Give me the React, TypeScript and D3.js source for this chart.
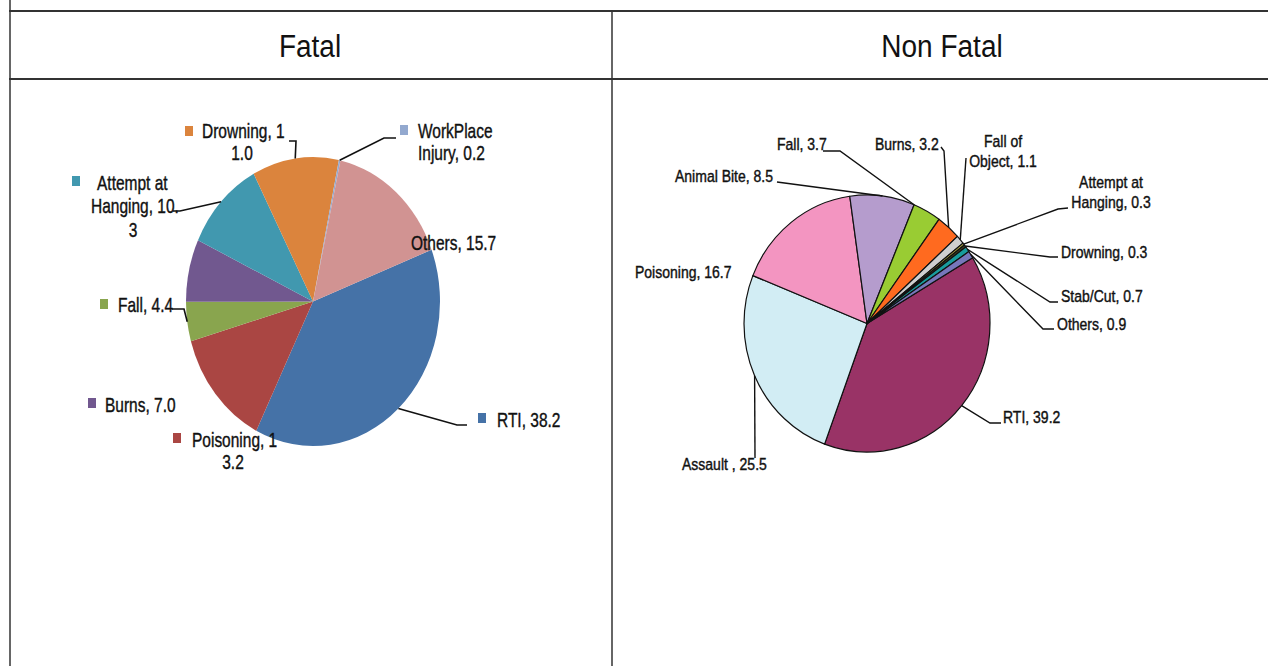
import React from "react";
import * as d3 from "d3";

// ---------- DATA ----------
const fatalCategories = ["RTI", "Poisoning", "Fall", "Burns", "Attempt at Hanging", "Drowning", "WorkPlace Injury", "Others"];
const fatalValues = [38.2, 13.2, 4.4, 7.0, 10.3, 11.0, 0.2, 15.7];
const fatalColors = ["#4572A7", "#AA4643", "#89A54E", "#71588F", "#4198AF", "#DB843D", "#93A9CF", "#D19392"];

const nonFatalCategories = ["RTI", "Assault ", "Poisoning", "Animal Bite", "Fall", "Burns", "Fall of Object", "Attempt at Hanging", "Drowning", "Stab/Cut", "Others"];
const nonFatalValues = [39.2, 25.5, 16.7, 8.5, 3.7, 3.2, 1.1, 0.3, 0.3, 0.7, 0.9];
const nonFatalColors = ["#993366", "#D2EDF4", "#F395C1", "#B59CCD", "#99CC33", "#FF6A1F", "#CFCFCF", "#A8A040", "#404020", "#189C9C", "#7777BB"];

const panelTitles = ["Fatal", "Non Fatal"];

// ---------- LAYOUT ----------
type Line = [number, number, "start" | "middle"];
type LabelLayout = {
  breaks?: number[];
  pos: Line[];
  key?: [number, number];
  leader?: [number, number][];
  at?: number;
};

const fatalLayout: LabelLayout[] = [
  { pos: [[497, 427, "start"]], key: [478, 413], leader: [[467, 425], [457, 425]] },
  { breaks: [12], pos: [[192, 447, "start"], [233, 469, "middle"]], key: [173, 433] },
  { pos: [[118, 312, "start"]], key: [100, 299], leader: [[172, 309], [184, 309]] },
  { pos: [[105, 412, "start"]], key: [88, 398] },
  { breaks: [11, 23], pos: [[97, 190, "start"], [91, 213, "start"], [133, 237, "middle"]], key: [72, 176], leader: [[173, 211], [180, 211]] },
  { breaks: [11], pos: [[202, 138, "start"], [242, 160, "middle"]], key: [185, 126], leader: [[289, 141], [296, 141]] },
  { breaks: [10], pos: [[418, 138, "start"], [418, 160, "start"]], key: [400, 125], leader: [[396, 138], [384, 138]] },
  { pos: [[411, 250, "start"]] },
];

const nonFatalLayout: LabelLayout[] = [
  { pos: [[1003, 423, "start"]], leader: [[1001, 423], [990, 423]] },
  { pos: [[682, 470, "start"]], leader: [[755, 458]] },
  { pos: [[635, 278, "start"]] },
  { pos: [[675, 182, "start"]], leader: [[777, 182]] },
  { pos: [[777, 150, "start"]], leader: [[823, 151], [840, 151]], at: 0 },
  { pos: [[875, 150, "start"]], leader: [[941, 147], [944, 151]] },
  { breaks: [8], pos: [[1003, 147, "middle"], [1003, 167, "middle"]], leader: [[966, 158]] },
  { breaks: [11], pos: [[1111, 188, "middle"], [1111, 208, "middle"]], leader: [[1068, 208], [1058, 209]] },
  { pos: [[1061, 258, "start"]], leader: [[1058, 257], [1050, 257]] },
  { pos: [[1061, 302, "start"]], leader: [[1058, 302], [1050, 302]] },
  { pos: [[1057, 330, "start"]], leader: [[1054, 329], [1043, 329]] },
];

const FONT = "'Liberation Sans', Arial, sans-serif";

function splitText(s: string, breaks?: number[]): string[] {
  if (!breaks || breaks.length === 0) return [s];
  const out: string[] = [];
  let prev = 0;
  for (const b of breaks) {
    out.push(s.slice(prev, b).trim());
    prev = b;
  }
  out.push(s.slice(prev).trim());
  return out;
}

type PieProps = {
  categories: string[];
  values: number[];
  colors: string[];
  layout: LabelLayout[];
  cx: number;
  cy: number;
  rx: number;
  ry: number;
  startDeg: number;
  stroke?: string;
  fontSize: number;
  textScaleY: number;
  leaderWidth: number;
  textStroke: number;
};

function Pie(p: PieProps) {
  const start = (p.startDeg * Math.PI) / 180;
  const idx = p.values.map((_, i) => i);
  const pie = d3
    .pie<number>()
    .sort(null)
    .value((i) => p.values[i])
    .startAngle(start)
    .endAngle(start + 2 * Math.PI);
  const arcs = pie(idx);
  const arc = d3.arc<d3.PieArcDatum<number>>().innerRadius(0).outerRadius(p.rx);
  const sy = p.ry / p.rx;
  const line = d3.line();

  return (
    <g>
      <g transform={`translate(${p.cx},${p.cy}) scale(1,${sy})`}>
        {arcs.map((a, i) => (
          <path
            key={i}
            d={arc(a) || ""}
            fill={p.colors[i]}
            stroke={p.stroke || "none"}
            strokeWidth={p.stroke ? 1.2 : 0}
            vectorEffect="non-scaling-stroke"
            strokeLinejoin="round"
          />
        ))}
      </g>
      {arcs.map((a, i) => {
        const L = p.layout[i];
        const text = `${p.categories[i]}, ${p.values[i].toFixed(1)}`;
        const lines = splitText(text, L.breaks);
        const t = L.at === undefined ? 0.5 : L.at;
        const ang = a.startAngle + t * (a.endAngle - a.startAngle);
        const ax = p.cx + p.rx * Math.sin(ang);
        const ay = p.cy - p.ry * Math.cos(ang);
        return (
          <g key={i}>
            {L.key && <rect x={L.key[0]} y={L.key[1]} width={8} height={10} fill={p.colors[i]} />}
            {lines.map((s, j) => {
              const ps = L.pos[Math.min(j, L.pos.length - 1)];
              return (
                <text
                  key={j}
                  transform={`translate(${ps[0]},${ps[1]}) scale(1,${p.textScaleY})`}
                  textAnchor={ps[2]}
                  fontFamily={FONT}
                  fontSize={p.fontSize}
                  fill="#111"
                  stroke="#111"
                  strokeWidth={p.textStroke}
                >
                  {s}
                </text>
              );
            })}
            {L.leader && (
              <path
                d={line([...L.leader, [ax, ay]]) || ""}
                fill="none"
                stroke="#111"
                strokeWidth={p.leaderWidth}
              />
            )}
          </g>
        );
      })}
    </g>
  );
}

export default function App() {
  const W = 1268;
  const H = 666;
  const border = "#333";
  return (
    <div style={{ position: "absolute", left: 0, top: 0 }}>
      <svg width={W} height={H} style={{ display: "block", background: "#fff" }}>
        <rect x={0} y={0} width={W} height={H} fill="#fff" />
        {/* table borders */}
        <line x1={9} y1={11} x2={W} y2={11} stroke={border} strokeWidth={2} />
        <line x1={9} y1={79} x2={W} y2={79} stroke={border} strokeWidth={2} />
        <line x1={10} y1={0} x2={10} y2={H} stroke={border} strokeWidth={1.5} />
        <line x1={612} y1={10} x2={612} y2={H} stroke={border} strokeWidth={1.5} />
        {/* titles */}
        <text transform={`translate(310,57) scale(1,1.1)`} textAnchor="middle" fontFamily={FONT} fontSize={28} fill="#111">
          {panelTitles[0]}
        </text>
        <text transform={`translate(942,57) scale(1,1.1)`} textAnchor="middle" fontFamily={FONT} fontSize={28} fill="#111">
          {panelTitles[1]}
        </text>
        <Pie
          categories={fatalCategories}
          values={fatalValues}
          colors={fatalColors}
          layout={fatalLayout}
          cx={313}
          cy={301.5}
          rx={127}
          ry={144.5}
          startDeg={69}
          fontSize={15.5}
          textScaleY={1.33}
          leaderWidth={1.6}
          textStroke={0.3}
        />
        <Pie
          categories={nonFatalCategories}
          values={nonFatalValues}
          colors={nonFatalColors}
          layout={nonFatalLayout}
          cx={867}
          cy={323.5}
          rx={123}
          ry={128.5}
          startDeg={59.2}
          stroke="#111"
          fontSize={14}
          textScaleY={1.12}
          leaderWidth={1.4}
          textStroke={0.35}
        />
      </svg>
    </div>
  );
}
